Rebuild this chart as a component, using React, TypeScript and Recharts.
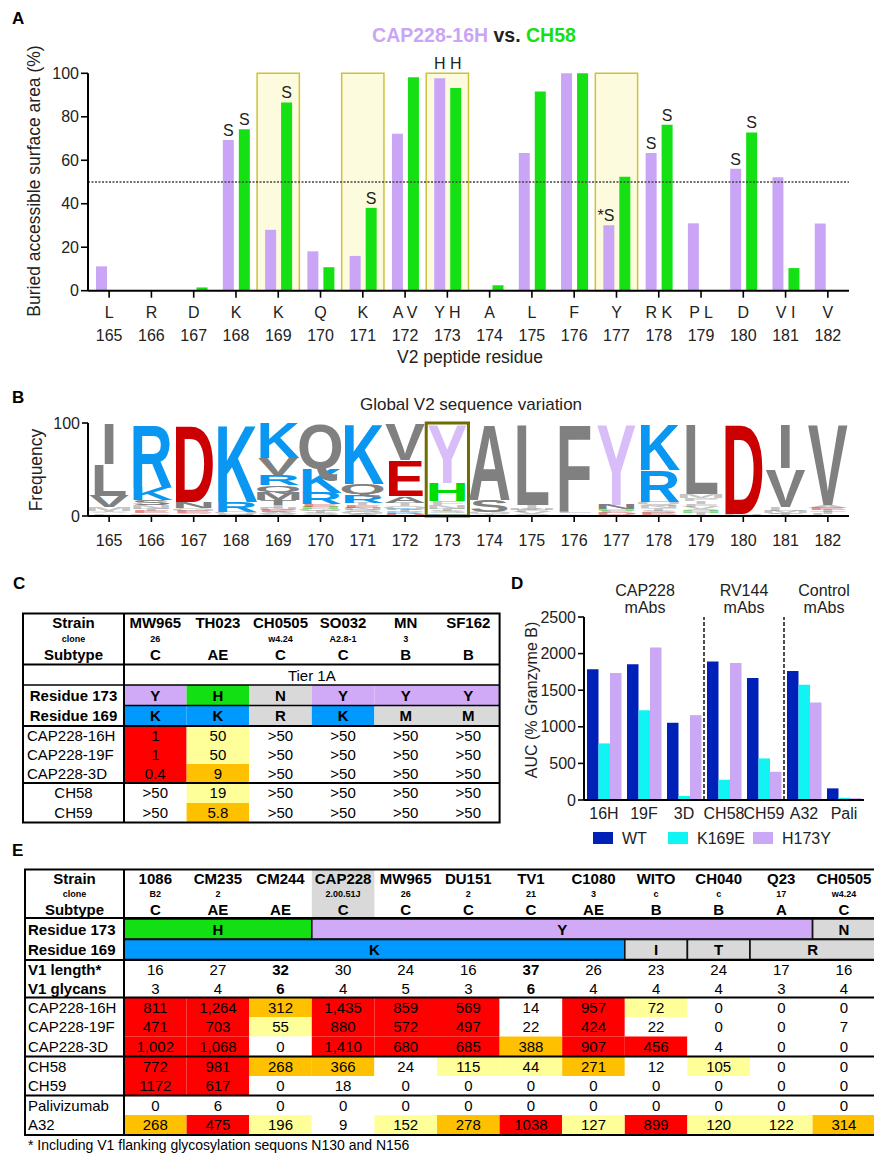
import React from 'react';
import { BarChart, Bar, XAxis, YAxis, ReferenceArea, ReferenceLine, LabelList } from 'recharts';

// ---------- panel A : buried accessible surface area ----------
const residues = ['165', '166', '167', '168', '169', '170', '171', '172', '173', '174', '175', '176', '177', '178', '179', '180', '181', '182'];
const residueLetters = ['L', 'R', 'D', 'K', 'K', 'Q', 'K', 'A V', 'Y H', 'A', 'L', 'F', 'Y', 'R K', 'P L', 'D', 'V I', 'V'];
const cap228Buried = [11.2, 0, 0, 69.3, 28, 18.1, 16, 72.2, 97.7, 0, 63.3, 100, 30.1, 63.3, 31, 56.1, 52.2, 30.9];
const ch58Buried = [0, 0, 1.5, 74.3, 86.6, 10.8, 38.1, 98.2, 93.2, 2.5, 91.6, 100, 52.4, 76.3, 0, 72.8, 10.4, 0];
const cap228Marks = ['', '', '', 'S', '', '', '', '', 'H', '', '', '', '*S', 'S', '', 'S', '', ''];
const ch58Marks = ['', '', '', 'S', 'S', '', 'S', '', 'H', '', '', '', '', 'S', '', 'S', '', ''];
const boxedResidues = ['169', '171', '173', '177'];

// ---------- panel B : sequence logo (letters bottom -> top, % frequency) ----------
const logoLetters: string[][] = [
  ['K', 'F', 'A', 'T', 'M', 'V', 'L', 'I'],
  ['G', 'Q', 'E', 'T', 'N', 'S', 'K', 'R'],
  ['K', 'S', 'E', 'G', 'N', 'D'],
  ['T', 'N', 'Q', 'R', 'K'],
  ['L', 'S', 'A', 'E', 'N', 'I', 'T', 'M', 'Q', 'R', 'V', 'K'],
  ['A', 'S', 'T', 'G', 'H', 'E', 'R', 'K', 'Q'],
  ['A', 'G', 'S', 'N', 'E', 'T', 'R', 'Q', 'K'],
  ['D', 'R', 'I', 'K', 'Q', 'T', 'A', 'E', 'V'],
  ['R', 'K', 'S', 'T', 'N', 'F', 'H', 'Y'],
  ['V', 'T', 'G', 'S', 'A'],
  ['T', 'S', 'V', 'F', 'M', 'I', 'L'],
  ['I', 'Y', 'L', 'F'],
  ['S', 'D', 'F', 'H', 'N', 'Y'],
  ['G', 'E', 'S', 'T', 'N', 'Q', 'R', 'K'],
  ['Y', 'T', 'H', 'S', 'V', 'F', 'I', 'P', 'M', 'L'],
  ['E', 'N', 'D'],
  ['T', 'F', 'M', 'L', 'V', 'I'],
  ['L', 'T', 'I', 'E', 'A', 'V'],
];
const logoFreqs: number[][] = [
  [1.2, 1.5, 1.5, 1.5, 3.6, 12.1, 34.3, 44.3],
  [1.6, 1.6, 2, 2, 4.6, 5.2, 14.4, 68.6],
  [1.7, 1.7, 2, 3, 7, 84.6],
  [1, 1.4, 2, 11, 84.6],
  [1, 1.5, 2, 2, 2, 3, 5.5, 9, 7, 11, 18, 38],
  [1.5, 2, 2, 2, 2, 3, 12.5, 27, 48],
  [2, 2, 2, 2.3, 3, 3, 9, 10.7, 66],
  [2, 2, 2, 2, 3, 3.5, 7, 38.5, 40],
  [1.5, 1.5, 2, 3, 4, 4, 20, 64],
  [1, 1.5, 2, 12.5, 83],
  [1, 1, 2, 2, 2, 4, 88],
  [1.5, 1.5, 2, 95],
  [1, 2, 2, 2, 5, 88],
  [1.4, 2, 2, 3, 3, 4, 34.6, 50],
  [1, 2, 2, 2, 3, 3, 3, 3, 4.6, 76.4],
  [1, 1, 98],
  [2, 1.7, 2, 4.3, 42, 48],
  [2, 2, 2, 3, 3, 88],
];

// ---------- panel C : IC50 table ----------
const strainsC = ['MW965', 'TH023', 'CH0505', 'SO032', 'MN', 'SF162'];
const clonesC = ['26', '', 'w4.24', 'A2.8-1', '3', ''];
const subtypesC = ['C', 'AE', 'C', 'C', 'B', 'B'];
const res173C = ['Y', 'H', 'N', 'Y', 'Y', 'Y'];
const res169C = ['K', 'K', 'R', 'K', 'M', 'M'];
const mabsC = ['CAP228-16H', 'CAP228-19F', 'CAP228-3D', 'CH58', 'CH59'];
const ic50C = [
  ['1', '50', '>50', '>50', '>50', '>50'],
  ['1', '50', '>50', '>50', '>50', '>50'],
  ['0.4', '9', '>50', '>50', '>50', '>50'],
  ['>50', '19', '>50', '>50', '>50', '>50'],
  ['>50', '5.8', '>50', '>50', '>50', '>50'],
];

// ---------- panel D : ADCC AUC ----------
const adccMabs = ['16H', '19F', '3D', 'CH58', 'CH59', 'A32', 'Pali'];
const aucWT = [1786, 1855, 1055, 1891, 1668, 1764, 159];
const aucK169E = [773, 1227, 55, 277, 568, 1573, 30];
const aucH173Y = [1736, 2082, 1159, 1873, 386, 1332, 25];

// ---------- panel E : ADCC table ----------
const strainsE = ['1086', 'CM235', 'CM244', 'CAP228', 'MW965', 'DU151', 'TV1', 'C1080', 'WITO', 'CH040', 'Q23', 'CH0505'];
const clonesE = ['B2', '2', '', '2.00.51J', '26', '2', '21', '3', 'c', 'c', '17', 'w4.24'];
const subtypesE = ['C', 'AE', 'AE', 'C', 'C', 'C', 'C', 'AE', 'B', 'B', 'A', 'C'];
const res173E = ['H', 'H', 'H', 'Y', 'Y', 'Y', 'Y', 'Y', 'Y', 'Y', 'Y', 'N'];
const res169E = ['K', 'K', 'K', 'K', 'K', 'K', 'K', 'K', 'I', 'T', 'R', 'R'];
const v1LengthE = ['16', '27', '32', '30', '24', '16', '37', '26', '23', '24', '17', '16'];
const v1GlycansE = ['3', '4', '6', '4', '5', '3', '6', '4', '4', '4', '3', '4'];
const mabsE = ['CAP228-16H', 'CAP228-19F', 'CAP228-3D', 'CH58', 'CH59', 'Palivizumab', 'A32'];
const adccE = [
  ['811', '1,264', '312', '1,435', '859', '569', '14', '957', '72', '0', '0', '0'],
  ['471', '703', '55', '880', '572', '497', '22', '424', '22', '0', '0', '7'],
  ['1,002', '1,068', '0', '1,410', '680', '685', '388', '907', '456', '4', '0', '0'],
  ['772', '981', '268', '366', '24', '115', '44', '271', '12', '105', '0', '0'],
  ['1172', '617', '0', '18', '0', '0', '0', '0', '0', '0', '0', '0'],
  ['0', '6', '0', '0', '0', '0', '0', '0', '0', '0', '0', '0'],
  ['268', '475', '196', '9', '152', '278', '1038', '127', '899', '120', '122', '314'],
];

// styling
const sans = "'Liberation Sans', Arial, Helvetica, sans-serif";
const PURPLE = '#caa5f6';
const GREEN = '#14e014';
const boldColsE = [2, 6];

const surfaceData = residues.map((r, i) => ({
  residue: r,
  cap: cap228Buried[i],
  ch: ch58Buried[i],
  capMark: cap228Marks[i],
  chMark: ch58Marks[i],
}));

const maxLayers = Math.max(...logoLetters.map((l) => l.length));
const layerKeys = Array.from({ length: maxLayers }, (_, k) => 'l' + k);
const logoData = residues.map((r, i) => {
  const row: any = { residue: r, i };
  layerKeys.forEach((key, k) => {
    row[key] = logoFreqs[i][k] ?? 0;
  });
  return row;
});

const adccData = adccMabs.map((m, i) => ({ mab: m, wt: aucWT[i], k169e: aucK169E[i], h173y: aucH173Y[i] }));

const letterColor = (l: string) => {
  if (l === 'K' || l === 'R') return '#0a97f2';
  if (l === 'D' || l === 'E') return '#cc0000';
  if (l === 'H') return '#00dd00';
  if (l === 'Y') return '#d8bdf8';
  return '#808080';
};

const residueFill = (l: string) => {
  if (l === 'Y') return '#d0a9f7';
  if (l === 'H') return '#12e012';
  if (l === 'K') return '#0099ff';
  return '#d9d9d9';
};

const ic50Fill = (v: string) => {
  if (v.startsWith('>')) return '#ffffff';
  const n = parseFloat(v);
  if (n <= 1) return '#ff0000';
  if (n <= 10) return '#ffc000';
  return '#ffff99';
};

const adccFill = (v: string) => {
  const n = parseFloat(v.replace(/,/g, ''));
  if (n >= 400) return '#ff0000';
  if (n >= 250) return '#ffc000';
  if (n >= 40) return '#ffff99';
  return '#ffffff';
};

const runsOf = (arr: string[]) => {
  const out: { v: string; start: number; end: number }[] = [];
  arr.forEach((v, i) => {
    const last = out[out.length - 1];
    if (last && last.v === v) last.end = i;
    else out.push({ v, start: i, end: i });
  });
  return out;
};

// S / H annotations above bars; H sits just above the 100% line
const markRenderer = (values: number[], marks: string[]) => (props: any) => {
  const { value } = props;
  if (!value) return null;
  const vb = props.viewBox || {};
  const x = Number(vb.x ?? props.x);
  const y = Number(vb.y ?? props.y);
  const width = Number(vb.width ?? props.width);
  const height = Number(vb.height ?? props.height);
  let top = y;
  if (value === 'H') {
    const v = values[marks.indexOf('H')];
    const at100 = y + height - (Math.abs(height) / v) * 100;
    top = Number.isFinite(at100) && at100 > 20 ? at100 : y - 6;
  }
  const cx = x + width / 2;
  const star = String(value).startsWith('*');
  return (
    <text x={star ? cx + 5.5 : cx} y={top - 4} textAnchor={star ? 'end' : 'middle'} fontSize={16} fontFamily={sans} fill="#222">
      {value}
    </text>
  );
};

const ResidueTick = (props: any) => {
  const { x, y, payload } = props;
  const i = residues.indexOf(String(payload.value));
  return (
    <g>
      <text x={x} y={y + 18.5} textAnchor="middle" fontSize={16} fontFamily={sans} fill="#222">{residueLetters[i]}</text>
      <text x={x} y={y + 41} textAnchor="middle" fontSize={16} fontFamily={sans} fill="#222">{payload.value}</text>
    </g>
  );
};

const PositionTick = (props: any) => (
  <text x={props.x} y={props.y + 21.5} textAnchor="middle" fontSize={16} fontFamily={sans} fill="#222">{props.payload.value}</text>
);

const glyph = (layer: number) => (props: any) => {
  const { x, y, width, height, payload } = props;
  const letter = logoLetters[payload.i][layer];
  const freq = logoFreqs[payload.i][layer];
  if (!letter || !height || height < 0.4) return <g />;
  const fs = 100;
  const sx = width / (0.7 * fs);
  const sy = height / (0.716 * fs);
  return (
    <text
      transform={`translate(${x + width / 2},${y + height}) scale(${sx},${sy})`}
      textAnchor="middle"
      fontSize={fs}
      fontWeight="bold"
      fontFamily={sans}
      fill={letterColor(letter)}
      opacity={freq < 5 ? 0.45 : 1}
    >
      {letter}
    </text>
  );
};

const axisStyle = { stroke: '#000', strokeWidth: 2 };
const tickStyle = { stroke: '#000', strokeWidth: 1.6 };

function SurfacePanel() {
  return (
    <div style={{ position: 'absolute', left: 0, top: 0 }}>
      <BarChart width={874} height={372} data={surfaceData} margin={{ top: 73.3, right: 25, bottom: 21.3, left: 40 }} barGap={5}>
        {boxedResidues.map((r) => (
          <ReferenceArea key={r} x1={r} x2={r} y1={0} y2={100} fill="#fdfbdd" fillOpacity={1} stroke="#cfc23a" strokeWidth={1.5} />
        ))}
        <ReferenceLine y={50} stroke="#444" strokeDasharray="2 1.5" strokeWidth={1.3} />
        <XAxis dataKey="residue" interval={0} height={60} tickSize={7} axisLine={axisStyle} tickLine={tickStyle} tick={(p: any) => <ResidueTick {...p} />} />
        <YAxis width={48} domain={[0, 100]} ticks={[0, 20, 40, 60, 80, 100]} tickSize={7} axisLine={axisStyle} tickLine={tickStyle} tick={{ fill: '#222', fontSize: 16, fontFamily: sans }} />
        <Bar dataKey="cap" fill={PURPLE} barSize={11} isAnimationActive={false}>
          <LabelList dataKey="capMark" content={markRenderer(cap228Buried, cap228Marks)} />
        </Bar>
        <Bar dataKey="ch" fill={GREEN} barSize={11} isAnimationActive={false}>
          <LabelList dataKey="chMark" content={markRenderer(ch58Buried, ch58Marks)} />
        </Bar>
      </BarChart>
    </div>
  );
}

function LogoPanel() {
  return (
    <div style={{ position: 'absolute', left: 0, top: 380 }}>
      <BarChart width={874} height={170} data={logoData} margin={{ top: 43, right: 25, bottom: 4, left: 40 }} barCategoryGap={0}>
        <XAxis dataKey="residue" interval={0} height={30} tickSize={6} axisLine={axisStyle} tickLine={tickStyle} tick={(p: any) => <PositionTick {...p} />} />
        <YAxis width={48} domain={[0, 100]} ticks={[0, 100]} tickSize={6} axisLine={axisStyle} tickLine={tickStyle} tick={{ fill: '#222', fontSize: 16, fontFamily: sans }} />
        {layerKeys.map((key, k) => (
          <Bar key={key} dataKey={key} stackId="logo" isAnimationActive={false} shape={glyph(k)} />
        ))}
        <ReferenceArea x1="173" x2="173" y1={0} y2={100} fill="none" stroke="#6f6d00" strokeWidth={3} />
      </BarChart>
    </div>
  );
}

function AdccPanel() {
  return (
    <div style={{ position: 'absolute', left: 500, top: 580 }}>
      <BarChart width={374} height={260} data={adccData} margin={{ top: 37, right: 10, bottom: 10, left: 34 }} barGap={0}>
        <XAxis dataKey="mab" interval={0} height={30} tickLine={false} axisLine={axisStyle} tick={{ fill: '#222', fontSize: 16, fontFamily: sans }} />
        <YAxis width={50} domain={[0, 2500]} ticks={[0, 500, 1000, 1500, 2000, 2500]} tickSize={6} axisLine={axisStyle} tickLine={tickStyle} tick={{ fill: '#222', fontSize: 16, fontFamily: sans }} />
        <ReferenceLine x="CH58" position="start" stroke="#222" strokeDasharray="4 2" strokeWidth={1.6} />
        <ReferenceLine x="A32" position="start" stroke="#222" strokeDasharray="4 2" strokeWidth={1.6} />
        <Bar dataKey="wt" fill="#0021b8" barSize={11.5} isAnimationActive={false} />
        <Bar dataKey="k169e" fill="#10f4f4" barSize={11.5} isAnimationActive={false} />
        <Bar dataKey="h173y" fill="#cba8f6" barSize={11.5} isAnimationActive={false} />
      </BarChart>
    </div>
  );
}

function TableC() {
  const x0 = 23;
  const c0 = 124;
  const cw = 62.6;
  const x1 = c0 + strainsC.length * cw;
  const top = 613.5;
  const bottom = 822.5;
  const rowTops = [726, 745, 764, 783, 803];
  const rowBots = [745, 764, 783, 803, 822.5];
  const cx = (k: number) => c0 + k * cw + cw / 2;
  return (
    <g fontFamily={sans}>
      {res173C.map((r, k) => <rect key={'a' + k} x={c0 + k * cw} y={685} width={cw} height={20.5} fill={residueFill(r)} />)}
      {res169C.map((r, k) => <rect key={'b' + k} x={c0 + k * cw} y={705.5} width={cw} height={20.5} fill={residueFill(r)} />)}
      {ic50C.map((row, r) =>
        row.map((v, k) => <rect key={'v' + r + k} x={c0 + k * cw} y={rowTops[r]} width={cw} height={rowBots[r] - rowTops[r]} fill={ic50Fill(v)} />)
      )}
      <rect x={x0} y={top} width={x1 - x0} height={bottom - top} fill="none" stroke="#000" strokeWidth={2} />
      <line x1={x0} x2={x1} y1={664.5} y2={664.5} stroke="#000" strokeWidth={2} />
      <line x1={x0} x2={x1} y1={685} y2={685} stroke="#000" strokeWidth={1.5} />
      <line x1={c0} x2={x1} y1={705.5} y2={705.5} stroke="#000" strokeWidth={1.5} />
      <line x1={x0} x2={x1} y1={726} y2={726} stroke="#000" strokeWidth={2} />
      <line x1={x0} x2={x1} y1={783} y2={783} stroke="#000" strokeWidth={2} />
      <line x1={c0} x2={c0} y1={top} y2={bottom} stroke="#000" strokeWidth={2} />
      <text x={73.5} y={628} textAnchor="middle" fontSize={15} fontWeight="bold">Strain</text>
      <text x={73.5} y={642} textAnchor="middle" fontSize={9} fontWeight="bold">clone</text>
      <text x={73.5} y={660} textAnchor="middle" fontSize={15} fontWeight="bold">Subtype</text>
      {strainsC.map((s, k) => (
        <g key={'h' + k}>
          <text x={cx(k)} y={628} textAnchor="middle" fontSize={15} fontWeight="bold">{s}</text>
          <text x={cx(k)} y={642} textAnchor="middle" fontSize={9} fontWeight="bold">{clonesC[k]}</text>
          <text x={cx(k)} y={660} textAnchor="middle" fontSize={15} fontWeight="bold">{subtypesC[k]}</text>
        </g>
      ))}
      <text x={(c0 + x1) / 2} y={680.5} textAnchor="middle" fontSize={15}>Tier 1A</text>
      <text x={73.5} y={700.5} textAnchor="middle" fontSize={15} fontWeight="bold">Residue 173</text>
      <text x={73.5} y={721} textAnchor="middle" fontSize={15} fontWeight="bold">Residue 169</text>
      {res173C.map((r, k) => <text key={'t' + k} x={cx(k)} y={700.5} textAnchor="middle" fontSize={15} fontWeight="bold">{r}</text>)}
      {res169C.map((r, k) => <text key={'u' + k} x={cx(k)} y={721} textAnchor="middle" fontSize={15} fontWeight="bold">{r}</text>)}
      {mabsC.map((m, r) => {
        const base = (rowTops[r] + rowBots[r]) / 2 + 5.4;
        return (
          <g key={'m' + r}>
            <text x={r < 3 ? 27 : 73.5} y={base} textAnchor={r < 3 ? 'start' : 'middle'} fontSize={15}>{m}</text>
            {ic50C[r].map((v, k) => <text key={k} x={cx(k)} y={base} textAnchor="middle" fontSize={15}>{v}</text>)}
          </g>
        );
      })}
    </g>
  );
}

function TableE() {
  const x0 = 25;
  const c0 = 124;
  const cw = 62.6;
  const x1 = c0 + strainsE.length * cw;
  const top = 869.5;
  const bottom = 1135;
  const rowTops = [997.5, 1017, 1036.5, 1056.5, 1076, 1095.5, 1115];
  const rowBots = [1017, 1036.5, 1056.5, 1076, 1095.5, 1115, 1135];
  const cx = (k: number) => c0 + k * cw + cw / 2;
  const runs173 = runsOf(res173E);
  const runs169 = runsOf(res169E);
  return (
    <g fontFamily={sans}>
      <rect x={c0 + 3 * cw} y={top} width={cw} height={918 - top} fill="#d9d9d9" />
      {adccE.map((row, r) =>
        row.map((v, k) => <rect key={'v' + r + k} x={c0 + k * cw} y={rowTops[r]} width={cw} height={rowBots[r] - rowTops[r]} fill={adccFill(v)} />)
      )}
      {runs173.map((run, j) => (
        <g key={'r' + j}>
          <rect x={c0 + run.start * cw} y={919} width={(run.end - run.start + 1) * cw} height={20} fill={residueFill(run.v)} stroke="#111" strokeWidth={1.6} />
          <text x={c0 + ((run.start + run.end + 1) / 2) * cw} y={934.5} textAnchor="middle" fontSize={15} fontWeight="bold">{run.v}</text>
        </g>
      ))}
      {runs169.map((run, j) => (
        <g key={'s' + j}>
          <rect x={c0 + run.start * cw} y={939.5} width={(run.end - run.start + 1) * cw} height={20} fill={residueFill(run.v)} stroke="#111" strokeWidth={1.6} />
          <text x={c0 + ((run.start + run.end + 1) / 2) * cw} y={955} textAnchor="middle" fontSize={15} fontWeight="bold">{run.v}</text>
        </g>
      ))}
      <rect x={x0} y={top} width={x1 - x0} height={bottom - top} fill="none" stroke="#000" strokeWidth={2} />
      <line x1={x0} x2={x1} y1={918} y2={918} stroke="#000" strokeWidth={2} />
      <line x1={x0} x2={x1} y1={960} y2={960} stroke="#000" strokeWidth={2} />
      <line x1={x0} x2={x1} y1={997.5} y2={997.5} stroke="#000" strokeWidth={2} />
      <line x1={x0} x2={x1} y1={1056.5} y2={1056.5} stroke="#000" strokeWidth={2} />
      <line x1={x0} x2={x1} y1={1095.5} y2={1095.5} stroke="#000" strokeWidth={2} />
      <line x1={c0} x2={c0} y1={top} y2={bottom} stroke="#000" strokeWidth={2} />
      <text x={74.5} y={883.5} textAnchor="middle" fontSize={15} fontWeight="bold">Strain</text>
      <text x={74.5} y={897} textAnchor="middle" fontSize={9} fontWeight="bold">clone</text>
      <text x={74.5} y={914.5} textAnchor="middle" fontSize={15} fontWeight="bold">Subtype</text>
      {strainsE.map((s, k) => (
        <g key={'h' + k}>
          <text x={cx(k)} y={883.5} textAnchor="middle" fontSize={15} fontWeight="bold">{s}</text>
          <text x={cx(k)} y={897} textAnchor="middle" fontSize={9} fontWeight="bold">{clonesE[k]}</text>
          <text x={cx(k)} y={914.5} textAnchor="middle" fontSize={15} fontWeight="bold">{subtypesE[k]}</text>
        </g>
      ))}
      <text x={28} y={934.5} fontSize={15} fontWeight="bold">Residue 173</text>
      <text x={28} y={955} fontSize={15} fontWeight="bold">Residue 169</text>
      <text x={28} y={975} fontSize={15} fontWeight="bold">V1 length*</text>
      <text x={28} y={993.5} fontSize={15} fontWeight="bold">V1 glycans</text>
      {v1LengthE.map((v, k) => (
        <text key={'l' + k} x={cx(k)} y={975} textAnchor="middle" fontSize={15} fontWeight={boldColsE.includes(k) ? 'bold' : 'normal'}>{v}</text>
      ))}
      {v1GlycansE.map((v, k) => (
        <text key={'g' + k} x={cx(k)} y={993.5} textAnchor="middle" fontSize={15} fontWeight={boldColsE.includes(k) ? 'bold' : 'normal'}>{v}</text>
      ))}
      {mabsE.map((m, r) => {
        const base = (rowTops[r] + rowBots[r]) / 2 + 5.4;
        return (
          <g key={'m' + r}>
            <text x={28} y={base} fontSize={15}>{m}</text>
            {adccE[r].map((v, k) => <text key={k} x={cx(k)} y={base} textAnchor="middle" fontSize={15}>{v}</text>)}
          </g>
        );
      })}
      <text x={28} y={1150} fontSize={14}>* Including V1 flanking glycosylation sequons N130 and N156</text>
    </g>
  );
}

function Overlay() {
  return (
    <svg width={874} height={1155} style={{ position: 'absolute', left: 0, top: 0, pointerEvents: 'none' }} fontFamily={sans}>
      {/* panel letters */}
      <text x={12} y={24} fontSize={17} fontWeight="bold">A</text>
      <text x={12} y={403} fontSize={17} fontWeight="bold">B</text>
      <text x={13} y={589} fontSize={17} fontWeight="bold">C</text>
      <text x={511} y={589} fontSize={17} fontWeight="bold">D</text>
      <text x={12} y={856} fontSize={17} fontWeight="bold">E</text>

      {/* panel A texts */}
      <text x={474} y={42} textAnchor="middle" fontSize={19.5} fontWeight="bold">
        <tspan fill={PURPLE}>CAP228-16H</tspan>
        <tspan fill="#222"> vs. </tspan>
        <tspan fill={GREEN}>CH58</tspan>
      </text>
      <text transform="translate(40,181) rotate(-90)" textAnchor="middle" fontSize={17.5} fill="#222">Buried accessible surface area (%)</text>
      <text x={470} y={363} textAnchor="middle" fontSize={17.5} fill="#222">V2 peptide residue</text>

      {/* panel B texts */}
      <text x={471} y={410} textAnchor="middle" fontSize={17} fill="#222">Global V2 sequence variation</text>
      <text transform="translate(42,470) rotate(-90)" textAnchor="middle" fontSize={17.5} fill="#222">Frequency</text>

      {/* panel D texts */}
      <text x={645} y={596} textAnchor="middle" fontSize={16} fill="#222">CAP228</text>
      <text x={645} y={613} textAnchor="middle" fontSize={16} fill="#222">mAbs</text>
      <text x={744} y={596} textAnchor="middle" fontSize={16} fill="#222">RV144</text>
      <text x={744} y={613} textAnchor="middle" fontSize={16} fill="#222">mAbs</text>
      <text x={824} y={596} textAnchor="middle" fontSize={16} fill="#222">Control</text>
      <text x={824} y={613} textAnchor="middle" fontSize={16} fill="#222">mAbs</text>
      <text transform="translate(537,700) rotate(-90)" textAnchor="middle" fontSize={16} fill="#222">AUC (% Granzyme B)</text>
      <rect x={593} y={832} width={20} height={12} fill="#0021b8" />
      <text x={622} y={844} fontSize={16} fill="#222">WT</text>
      <rect x={668} y={832} width={20} height={12} fill="#10f4f4" />
      <text x={697} y={844} fontSize={16} fill="#222">K169E</text>
      <rect x={753} y={832} width={20} height={12} fill="#cba8f6" />
      <text x={782} y={844} fontSize={16} fill="#222">H173Y</text>

      <TableC />
      <TableE />
    </svg>
  );
}

export default function App() {
  return (
    <div style={{ position: 'absolute', left: 0, top: 0, width: 874, height: 1155, background: '#fff', overflow: 'hidden', fontFamily: sans }}>
      <SurfacePanel />
      <LogoPanel />
      <AdccPanel />
      <Overlay />
    </div>
  );
}
